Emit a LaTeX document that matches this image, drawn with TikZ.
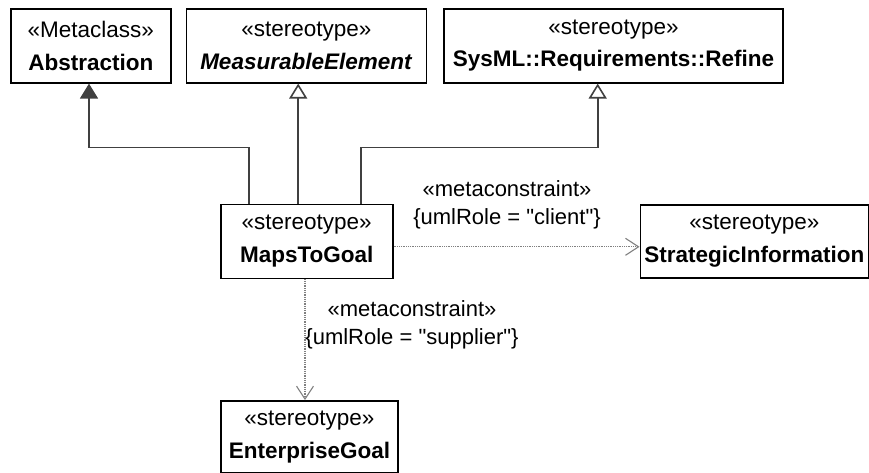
\documentclass[tikz,border=0pt]{standalone}
\usepackage{fontspec}
\setmainfont{Liberation Sans}
\usetikzlibrary{positioning, arrows.meta}
\newcommand\strq{\XeTeXglyph\XeTeXcharglyph"22\relax}

\begin{document}
\begin{tikzpicture}[
    x=1pt, y=-1pt,
    node distance=121pt and 246pt,
    umlbox/.style={rectangle, draw=black, line width=1.6pt, align=center, inner sep=2pt,
        font=\fontsize{22.5}{32.5}\selectfont},
    cstr/.style={align=center, inner sep=1pt, font=\fontsize{22}{28.5}\selectfont},
    genfilled/.style={-{Triangle[width=18pt, length=15pt, fill=black!75]}, line width=1.6pt, draw=black!75},
    gen/.style={-{Triangle[open, width=18pt, length=15pt, fill=white]}, line width=1.6pt, draw=black!75},
    dep/.style={-{Straight Barb[length=13pt, width=17pt, line width=1.1pt]}, line width=1.1pt,
        draw=black!50, dash pattern=on 1pt off 0.8pt}
]
\useasboundingbox (0,0) rectangle (869,473);

% top row
\node[umlbox, minimum width=160pt, minimum height=74pt] (abstraction) at (90.8,45.8)
    {«Metaclass»\\\textbf{Abstraction}};
\node[umlbox, minimum width=240pt, minimum height=74pt] (measurable) at (306.3,45.8)
    {«stereotype»\\\textbf{\itshape MeasurableElement}};
\node[umlbox, minimum width=339pt, minimum height=74pt] (refine) at (613.5,45.8)
    {«stereotype»\\\textbf{SysML::Requirements::Refine}};

% middle and bottom
\node[umlbox, minimum width=172pt, minimum height=74pt] (mapstogoal) at (306.7,241.3)
    {«stereotype»\\\textbf{MapsToGoal}};
\node[umlbox, minimum width=228pt, minimum height=73pt, right=of mapstogoal] (strategic)
    {«stereotype»\\\textbf{StrategicInformation}};
\node[umlbox, minimum width=177pt, minimum height=72pt, below=of mapstogoal, xshift=2.7pt] (enterprise)
    {«stereotype»\\\textbf{EnterpriseGoal}};

% generalizations
\draw[genfilled] ([xshift=-57.7pt]mapstogoal.north) -- ++(0,-56) -| ([xshift=-1.8pt]abstraction.south);
\draw[gen] ([xshift=-8.5pt]mapstogoal.north) -- ([xshift=-8.5pt]mapstogoal.north |- measurable.south);
\draw[gen] ([xshift=54pt]mapstogoal.north) -- ++(0,-56) -| ([xshift=-15.8pt]refine.south);

% metaconstraints
\draw[dep] ([yshift=-5.5pt]mapstogoal.east) -- ([yshift=-5.5pt]mapstogoal.east -| strategic.west);
\draw[dep] ([xshift=-1.7pt]mapstogoal.south) -- ([xshift=-1.7pt]mapstogoal.south |- enterprise.north);

\node[cstr] (clientlbl) at (507,205) {«metaconstraint»\\{\{}umlRole = \strq client\strq{\}}};
\node[cstr] (supplierlbl) at (412,325) {«metaconstraint»\\{\{}umlRole = \strq supplier\strq{\}}};

\end{tikzpicture}
\end{document}
